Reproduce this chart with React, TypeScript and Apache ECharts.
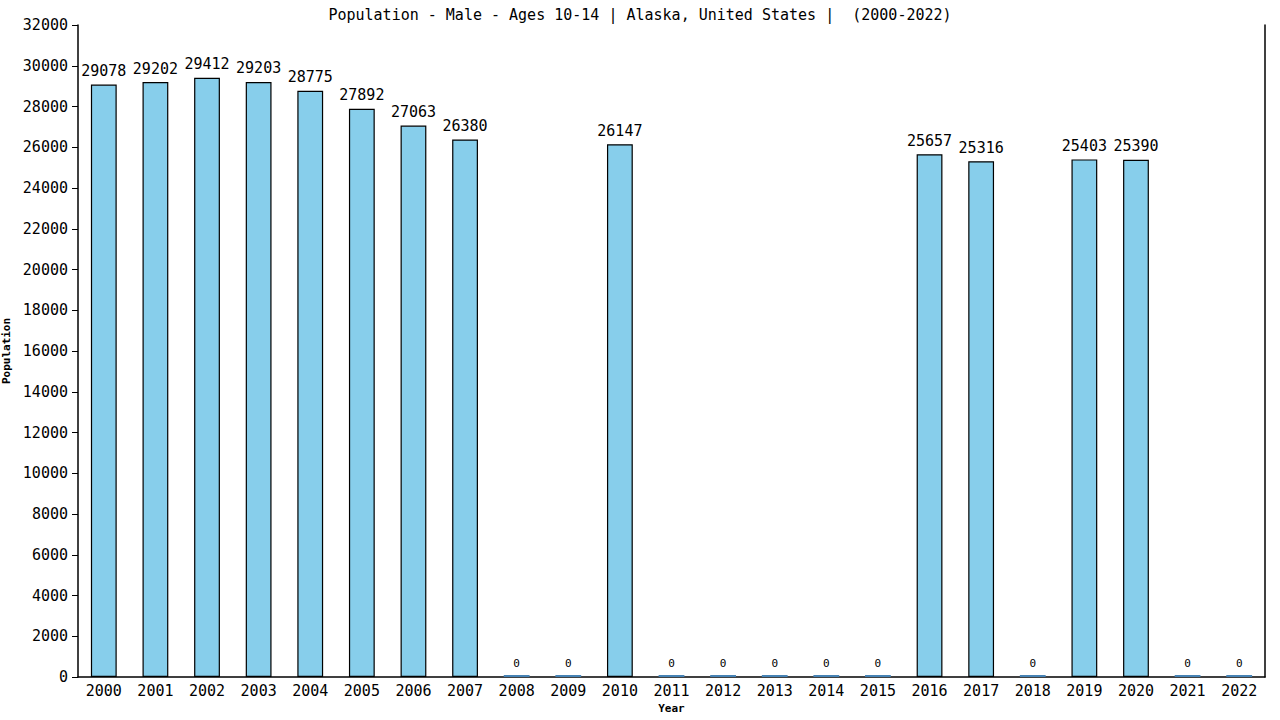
import React, { useEffect, useRef } from "react";
import * as echarts from "echarts";

const years = ["2000","2001","2002","2003","2004","2005","2006","2007","2008","2009","2010","2011","2012","2013","2014","2015","2016","2017","2018","2019","2020","2021","2022"];
const population = [29078,29202,29412,29203,28775,27892,27063,26380,0,0,26147,0,0,0,0,0,25657,25316,0,25403,25390,0,0];
const titleText = "Population - Male - Ages 10-14 | Alaska, United States |  (2000-2022)";

const FONT = "'DejaVu Sans Mono', monospace";

export default function App() {
  const ref = useRef<HTMLDivElement>(null);
  useEffect(() => {
    if (!ref.current) return;
    const chart = echarts.init(ref.current, null, { renderer: "svg" });
    const data = population.map((v) =>
      v === 0
        ? {
            value: v,
            itemStyle: { color: "#4682b4", borderWidth: 0 },
            label: { fontSize: 11, distance: 6 },
          }
        : { value: v }
    );
    chart.setOption({
      animation: false,
      backgroundColor: "#ffffff",
      title: {
        text: titleText,
        left: "center",
        top: 2,
        textStyle: { fontFamily: FONT, fontSize: 15, fontWeight: "normal", color: "#000" },
      },
      grid: { left: 78, right: 15, top: 25, bottom: 43, containLabel: false, outerBoundsMode: "none" },
      xAxis: {
        type: "category",
        data: years,
        name: "Year",
        nameLocation: "middle",
        nameGap: 26,
        nameTextStyle: { fontFamily: FONT, fontSize: 11, fontWeight: "bold", color: "#000" },
        axisLine: { lineStyle: { color: "#000", width: 1.5 } },
        axisTick: { show: false },
        axisLabel: { fontFamily: FONT, fontSize: 15, color: "#000", margin: 6 },
      },
      yAxis: [
        {
          type: "value",
          min: 0,
          max: 32000,
          interval: 2000,
          name: "Population",
          nameLocation: "middle",
          nameGap: 60,
          nameTextStyle: { fontFamily: FONT, fontSize: 11, fontWeight: "bold", color: "#000" },
          axisLine: { show: true, lineStyle: { color: "#000", width: 1.5 } },
          axisTick: { show: true, length: 6, lineStyle: { color: "#000" } },
          axisLabel: { fontFamily: FONT, fontSize: 15, color: "#000", margin: 10, formatter: (v: number) => String(v) },
          splitLine: { show: false },
        },
        {
          type: "value",
          min: 0,
          max: 32000,
          interval: 2000,
          position: "right",
          axisLine: { show: true, lineStyle: { color: "#000", width: 1.5 } },
          axisTick: { show: false },
          axisLabel: { show: false },
          splitLine: { show: false },
        },
      ],
      series: [
        {
          type: "bar",
          data,
          barWidth: "50%",
          barMinHeight: 2,
          itemStyle: {
            color: "#87ceeb",
            borderColor: "#000",
            borderWidth: 1.2,
          },
          label: {
            show: true,
            position: "top",
            distance: 6,
            fontFamily: FONT,
            fontSize: 15,
            color: "#000",
          },
        },
      ],
    });
    return () => chart.dispose();
  }, []);
  return <div ref={ref} style={{ width: 1280, height: 720, position: "fixed", left: 0, top: 0 }} />;
}
